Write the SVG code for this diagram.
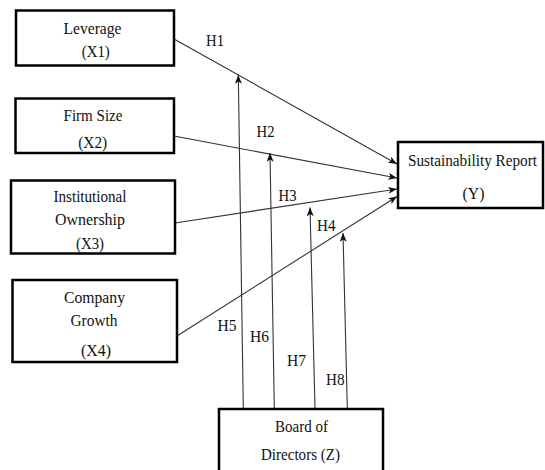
<svg xmlns="http://www.w3.org/2000/svg" width="545" height="470" viewBox="0 0 545 470">
<style>
.box{fill:#fff;stroke:#000;stroke-width:2.5}
.t{font-family:'Liberation Serif','DejaVu Serif',serif;font-size:17px;fill:#111;text-anchor:middle}
.h{font-family:'Liberation Serif','DejaVu Serif',serif;font-size:16px;fill:#111}
.c{fill:none;stroke:#333;stroke-width:1.1}
</style>
<defs>
<marker id="ah" viewBox="0 0 10 8" refX="10" refY="4" markerWidth="9" markerHeight="7" markerUnits="userSpaceOnUse" orient="auto">
<path d="M0,0 L10,4 L0,8 L2.5,4 z" fill="#111"/>
</marker>
</defs>
<rect width="545" height="470" fill="#fff"/>
<g id="connectors">
<line class="c" x1="174" y1="39" x2="397" y2="164" marker-end="url(#ah)"/>
<line class="c" x1="174" y1="136" x2="397" y2="178" marker-end="url(#ah)"/>
<line class="c" x1="175" y1="223" x2="397" y2="189" marker-end="url(#ah)"/>
<line class="c" x1="177" y1="336" x2="397" y2="196.5" marker-end="url(#ah)"/>
<line class="c" x1="243.3" y1="408" x2="238.3" y2="75" marker-end="url(#ah)"/>
<line class="c" x1="274.3" y1="408" x2="270" y2="153" marker-end="url(#ah)"/>
<line class="c" x1="315" y1="408" x2="310" y2="207.5" marker-end="url(#ah)"/>
<line class="c" x1="347.3" y1="408" x2="343" y2="233" marker-end="url(#ah)"/>
<text class="h" x="206" y="45.5" textLength="18" lengthAdjust="spacingAndGlyphs">H1</text>
<text class="h" x="256.5" y="137" textLength="18" lengthAdjust="spacingAndGlyphs">H2</text>
<text class="h" x="278.5" y="201" textLength="18" lengthAdjust="spacingAndGlyphs">H3</text>
<text class="h" x="317" y="231" textLength="18.5" lengthAdjust="spacingAndGlyphs">H4</text>
<text class="h" x="217.5" y="330.5" textLength="19" lengthAdjust="spacingAndGlyphs">H5</text>
<text class="h" x="250" y="341.5" textLength="19" lengthAdjust="spacingAndGlyphs">H6</text>
<text class="h" x="287" y="366" textLength="19" lengthAdjust="spacingAndGlyphs">H7</text>
<text class="h" x="326" y="384.5" textLength="18.5" lengthAdjust="spacingAndGlyphs">H8</text>
</g>
<g id="x1">
<rect class="box" x="16" y="10.5" width="158" height="55"/>
<text class="t" x="92.5" y="34" textLength="58" lengthAdjust="spacingAndGlyphs">Leverage</text>
<text class="t" x="95.8" y="57" textLength="28" lengthAdjust="spacingAndGlyphs">(X1)</text>
</g>
<g id="x2">
<rect class="box" x="15.5" y="98.5" width="158.5" height="54.5"/>
<text class="t" x="93" y="121" textLength="59" lengthAdjust="spacingAndGlyphs">Firm Size</text>
<text class="t" x="92.7" y="148" textLength="29" lengthAdjust="spacingAndGlyphs">(X2)</text>
</g>
<g id="x3">
<rect class="box" x="11" y="180.5" width="164" height="73"/>
<text class="t" x="90" y="202" textLength="73" lengthAdjust="spacingAndGlyphs">Institutional</text>
<text class="t" x="90" y="225" textLength="70" lengthAdjust="spacingAndGlyphs">Ownership</text>
<text class="t" x="90" y="249" textLength="28" lengthAdjust="spacingAndGlyphs">(X3)</text>
</g>
<g id="x4">
<rect class="box" x="12.5" y="280" width="164.5" height="82"/>
<text class="t" x="94.5" y="303" textLength="61" lengthAdjust="spacingAndGlyphs">Company</text>
<text class="t" x="94" y="326" textLength="47" lengthAdjust="spacingAndGlyphs">Growth</text>
<text class="t" x="96" y="356" textLength="30" lengthAdjust="spacingAndGlyphs">(X4)</text>
</g>
<g id="y">
<rect class="box" x="398" y="142" width="145" height="66"/>
<text class="t" x="472.5" y="166" style="font-size:16px" textLength="129" lengthAdjust="spacingAndGlyphs">Sustainability Report</text>
<text class="t" x="473.5" y="199" textLength="22" lengthAdjust="spacingAndGlyphs">(Y)</text>
</g>
<g id="z">
<rect class="box" x="219" y="409" width="164" height="70"/>
<text class="t" x="301.5" y="432" textLength="53" lengthAdjust="spacingAndGlyphs">Board of</text>
<text class="t" x="300.5" y="460" textLength="79" lengthAdjust="spacingAndGlyphs">Directors (Z)</text>
</g>
</svg>
